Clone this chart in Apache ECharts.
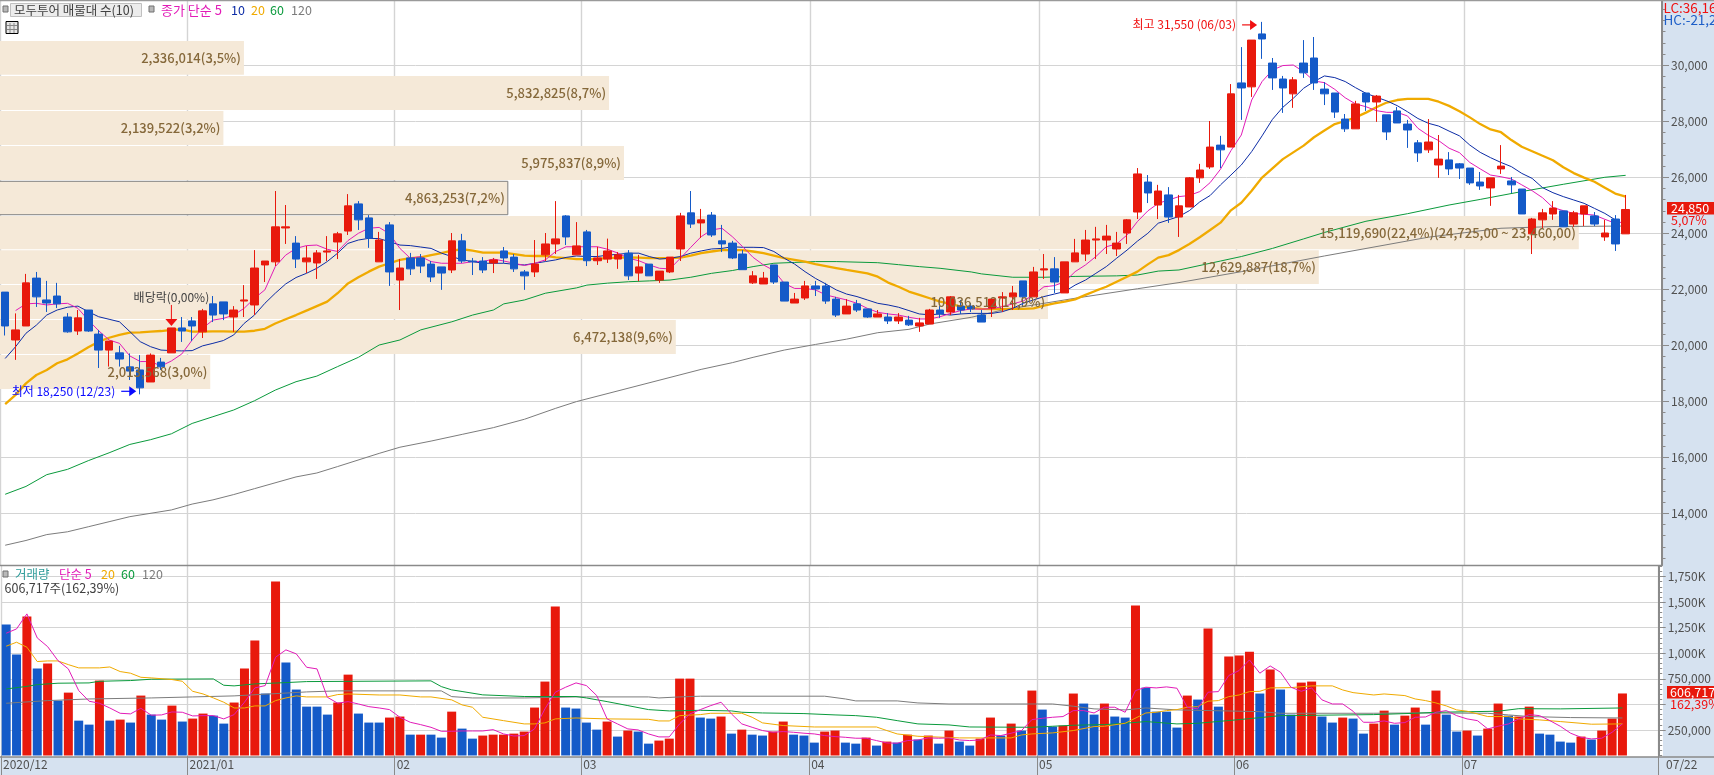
<!DOCTYPE html>
<html><head><meta charset="utf-8">
<style>html,body{margin:0;padding:0;background:#fff;overflow:hidden}#c{width:1714px;height:775px}</style>
<script src="https://cdn.jsdelivr.net/npm/echarts@6/dist/echarts.min.js"></script>
</head><body><div id="c"></div>
<script>
const opens=[21900,20190,20690,22400,21620,21760,21010,20510,21260,20400,19830,19730,19230,19120,18690,19400,19730,20620,20870,20480,21480,21550,21010,21580,21440,22870,22980,24190,23650,22980,22940,23330,23690,24080,25050,24550,22980,24300,22330,23120,23120,22900,22800,22690,23730,23010,23010,22940,23370,23150,22620,22620,23230,23620,24620,23230,24050,23020,23080,23080,23290,22580,22900,22330,22620,23440,24730,24370,24650,23730,23650,23260,22230,22190,22870,22260,21510,21690,22120,22120,21650,21120,21480,21300,21010,21010,20870,20900,20690,20760,21260,21190,21400,21400,21080,21330,21690,21730,22300,21730,22690,22730,21870,22980,23260,23760,23760,23440,24010,24760,25830,25010,25370,24580,24940,25980,26370,27150,27080,29370,29230,31120,30080,29510,28980,30080,30260,29150,29010,28080,27730,29010,28690,28230,28370,27900,27230,26980,26440,26620,26480,26330,25830,25620,26300,25870,25580,23980,24480,24690,24800,24330,24690,24620,23870,24510,23980];
const closes=[20690,20550,22230,21730,21510,21480,20480,20980,20510,19830,20150,19510,19080,18480,19650,19230,20620,20510,20690,21230,21080,21120,21260,21620,22760,23010,24230,24230,23080,23120,23300,23370,23980,24980,24480,23830,23760,22620,22760,22730,22830,22440,22580,23730,23010,22980,22690,23050,23120,22730,22480,22900,23620,23800,23870,23550,23020,23120,23370,23230,22480,22800,22480,22650,23150,24620,24330,24480,23940,23620,23120,22700,22480,22400,22260,21580,21650,22120,22010,21580,21080,21400,21260,21010,21120,20870,21010,20730,20800,21260,21120,21730,21260,21300,20830,21650,21730,21870,21730,22620,22730,22260,22980,23300,23760,23800,23900,23650,24480,26120,25440,25510,24580,24980,25980,26260,27080,26980,28980,29190,30900,30940,29550,29190,29480,29730,29370,28980,28330,27730,28620,28690,28900,27620,27940,27690,26870,27260,26650,26300,26330,25800,25690,25980,26400,25730,24690,24510,24730,24900,24230,24730,24980,24330,24010,23620,24850];
const lows=[20350,19480,20690,21370,21190,21330,20450,20370,20480,19190,19240,19240,18760,18250,18690,19120,19730,20120,20150,20260,20830,20900,20480,21010,21080,22260,22830,23620,22760,22580,22370,23010,23080,23940,24120,23480,22980,22120,21260,22510,22580,22260,21980,22580,22940,22510,22580,22580,22940,22620,21980,22440,23010,23260,23580,23230,22830,22870,22940,22730,22330,22290,22480,22230,22580,23010,24190,23830,23870,23330,23080,22700,22190,22190,22190,21580,21510,21620,21760,21480,21010,21120,21190,20980,21010,20760,20760,20690,20480,20760,20980,21080,21120,21190,20830,21010,21190,21260,21380,21730,22370,21870,21870,22980,23010,23080,23260,23190,23620,24510,25080,24510,24370,23870,24940,25800,26300,26330,27080,28050,28870,30230,29120,28300,28480,29550,29120,28580,28120,27620,27730,28370,27980,27330,27940,27050,26550,26870,25980,26080,25940,25730,25550,24980,26120,25440,24690,23260,24190,24480,24230,24230,24260,24260,23730,23370,23980];
const highs=[21900,21140,22550,22620,22300,22230,21150,21260,21260,20550,20150,19980,19710,19650,19710,19550,20620,21010,21010,21300,21760,21550,21400,22150,23400,23010,25510,25010,23900,23550,23400,23900,24050,25400,25150,24650,24050,24400,23080,23300,23260,23010,22800,24010,23980,23120,23150,23120,23510,23260,22690,23760,24010,25150,24650,24400,24120,23520,23810,23330,23400,23230,22900,22650,23150,24730,25510,24870,24760,24300,23730,23400,22650,22620,22870,22260,21870,22300,22300,22230,21730,21650,21620,21300,21260,21150,21150,21050,20980,21300,21400,21760,21620,21510,21260,21650,21900,22120,22300,22800,23260,23150,22980,23800,24120,24230,24300,24050,24510,26330,26080,25730,25650,25370,26010,26480,28010,27480,29330,30650,30900,31550,30260,29620,29580,30900,31010,29400,29010,28260,28730,29010,28940,28230,28510,28050,27330,28080,27510,26900,26510,26330,26190,25980,27150,26010,25580,24550,24870,25150,24800,24800,24980,24760,24480,24650,25370];
const volumesK=[1281,987,1359,850,899,537,615,341,302,733,341,351,322,586,400,351,488,332,361,410,390,312,518,850,1124,606,1701,909,645,478,478,400,518,791,410,322,322,371,381,204,204,204,175,429,263,165,195,204,204,214,234,469,723,1457,469,459,322,253,332,185,244,234,116,146,165,752,752,371,361,381,214,253,204,195,234,332,204,195,126,234,244,126,116,175,97,136,126,204,156,195,116,244,136,97,165,371,195,312,244,635,449,283,292,606,508,400,508,381,371,1466,664,429,429,273,586,547,1241,478,968,977,1016,606,840,645,400,713,723,381,322,371,361,214,312,439,302,390,469,302,635,400,234,244,195,263,508,390,381,478,214,204,136,126,185,156,244,361,606.717];
const volumeColours=("BBRBRBRBBR"+"BRBRBBRBRR"+"BBRRRBRBBB"+"BBRRBBBRRB"+"RBBRBBRRRR"+"RRRRBBBBRB"+"RBBRRRRBBR"+"BRBBRRBBBR"+"RBBRBRBRBR"+"BRBBRRBRBR"+"BBRRBBRBBR"+"BBBBRBRBRR"+"RBRBBRRBBR"+"BBRRBRRBRB"+"BRBRRBRRBB"+"BBRBRRR").split("");
const ma5=[null,21240,21480,21500,21440,21480,21500,21320,20900,20520,20190,20070,19620,19420,19420,19260,19440,19690,20190,20610,20900,20960,21080,21320,21680,21980,22810,23220,23460,23560,23580,23430,23350,23740,24000,24180,24210,23980,23460,23110,23170,22990,22930,22930,22930,22990,22990,23080,23010,22930,22850,22930,23050,23350,23520,23520,23520,23520,23430,23290,23110,23020,22870,22750,22730,23110,23500,23880,24120,24180,23880,23520,23140,22870,22670,22210,22030,22030,21980,21800,21710,21620,21500,21320,21180,21120,21080,21000,20940,20940,21020,21140,21240,21300,21290,21310,21380,21480,21580,21800,22090,22130,22270,22630,22870,23170,23520,23620,23940,24420,24800,25070,25190,25310,25350,25490,25810,26290,26950,27510,28760,29420,29830,29990,30010,29770,29440,29380,29140,28840,28620,28520,28380,28320,28320,28190,27750,27500,27310,27040,26880,26530,26300,26080,26020,25940,25730,25520,25270,24920,24810,24710,24680,24650,24500,24360,24420];
const ma10=[19530,19950,20430,20720,21080,21260,21360,21400,21200,21020,20930,20840,20490,20130,19950,19830,19810,19800,19810,19980,20070,20170,20370,20780,21080,21500,21860,22190,22420,22570,22750,22990,23290,23640,23760,23820,23810,23700,23580,23560,23510,23460,23290,23170,23050,22990,22930,22930,22930,22890,22870,22930,22990,23050,23140,23190,23170,23170,23220,23250,23290,23290,23170,23080,23110,23170,23290,23370,23440,23460,23520,23500,23500,23490,23350,23110,22900,22630,22390,22190,21980,21830,21740,21620,21500,21440,21360,21240,21120,21090,21120,21080,21120,21140,21140,21140,21200,21320,21500,21620,21740,21830,21920,22150,22330,22570,22810,23110,23400,23720,24000,24360,24480,24600,24810,25120,25350,25730,26080,26440,26920,27480,28070,28500,28820,29180,29420,29620,29560,29420,29200,29000,28860,28730,28560,28340,28100,27930,27830,27650,27480,27150,26890,26700,26530,26380,26140,25960,25630,25450,25310,25190,25070,24890,24710,24480,null];
const ma20=[17900,18230,18640,18940,19120,19360,19500,19710,19930,20130,20270,20370,20450,20460,20490,20510,20550,20570,20490,20490,20500,20500,20490,20490,20520,20590,20780,20930,21080,21240,21400,21560,21860,22210,22430,22630,22810,22930,23050,23110,23140,23220,23290,23380,23430,23380,23310,23310,23310,23260,23200,23190,23190,23140,23110,23080,23080,23090,23110,23130,23140,23130,23110,23110,23110,23130,23200,23290,23350,23400,23400,23400,23350,23290,23200,23110,23050,22990,22900,22830,22760,22690,22630,22570,22450,22240,22090,21920,21800,21680,21560,21480,21380,21340,21300,21290,21290,21300,21300,21320,21420,21500,21560,21640,21800,21950,22090,22270,22450,22630,22890,23130,23220,23400,23620,23860,24120,24380,24820,25090,25520,25990,26320,26650,26890,27130,27430,27670,27900,28010,28140,28310,28500,28670,28760,28800,28800,28800,28700,28550,28360,28140,27900,27710,27610,27330,27090,26930,26770,26610,26360,26150,25990,25840,25630,25420,25310];
const ma60Days=[1,3,5,7,9,11,13,15,17,19,21,23,25,27,29,31,33,35,37,39,41,44,46,48,49,51,53,56,57,59,61,63,65,67,69,71,73,75,77,79,81,85,87,89,91,94,95,98,101,104,108,110,112,114,118,120,123,126,128,132,136,140,143,147,151,155,157];
const ma60Vals=[14680,14960,15380,15570,15880,16160,16460,16630,16840,17210,17450,17690,18020,18400,18700,18900,19240,19570,20010,20190,20550,20840,21080,21260,21480,21620,21860,22050,22150,22220,22270,22300,22330,22430,22570,22670,22810,22930,22960,22990,22990,22950,22880,22810,22750,22620,22550,22430,22430,22460,22480,22510,22650,22690,23010,23170,23460,23800,24030,24430,24700,25010,25210,25490,25750,26000,26070];
const ma120Days=[1,3,5,7,9,11,13,17,19,21,23,25,29,31,33,37,39,42,45,48,51,54,56,68,71,73,76,79,82,85,88,90,94,97,101,104,110,114,120,128,138,145,150,157];
const ma120Vals=[12860,13030,13240,13340,13520,13700,13880,14120,14330,14480,14670,14880,15300,15440,15670,16140,16360,16580,16820,17060,17360,17750,17990,19140,19380,19570,19830,20030,20220,20450,20570,20760,21000,21260,21500,21680,22020,22240,22630,23190,23860,24180,24240,24260];
const volMa5K=[1196,1238,1385,1150,1065,928,847,635,531,511,465,413,407,462,394,397,426,423,387,390,390,358,400,521,661,684,961,1033,994,863,847,570,511,527,504,478,465,449,374,325,302,276,237,237,240,240,240,253,211,191,195,260,456,619,668,710,684,586,358,309,260,250,211,182,182,309,407,449,488,521,407,309,276,244,227,234,227,218,211,195,185,178,169,169,146,123,120,146,152,172,169,172,152,146,152,201,195,218,244,351,364,374,381,439,439,416,472,472,423,635,668,661,671,658,472,456,619,625,782,831,935,805,876,814,668,628,661,544,504,504,433,325,325,338,315,322,374,377,423,439,390,358,341,260,286,309,358,400,390,341,286,218,178,162,169,227,309];
const volMa20Days=[1,2,3,4,5,6,7,8,10,11,12,13,14,15,17,18,19,20,21,22,23,24,25,26,27,28,29,30,32,33,34,37,39,41,42,44,45,46,47,49,51,52,53,54,56,59,63,64,65,66,68,69,72,73,74,76,79,85,86,87,89,93,98,99,100,102,104,106,107,109,111,112,113,114,115,116,117,118,119,120,121,122,123,125,127,129,130,131,133,134,136,137,138,139,140,141,142,143,144,146,147,149,151,153,154,157];
const volMa20K=[1069,1108,1059,919,925,925,889,857,857,866,821,805,765,759,743,726,628,602,563,521,465,465,485,485,537,563,583,573,573,596,602,592,592,573,573,544,495,472,374,341,309,309,319,358,367,358,354,338,338,390,400,413,413,374,319,293,279,279,244,211,188,172,172,201,211,221,244,283,286,315,416,423,439,449,472,478,531,537,576,592,625,628,661,664,681,681,641,615,592,602,586,553,537,514,485,446,433,407,381,381,358,348,332,315,306,309];
const volMa60Days=[1,3,4,6,9,10,13,15,21,22,23,25,28,30,42,43,44,45,47,51,56,57,59,61,63,65,68,71,72,74,78,81,83,85,87,89,92,94,100,102,104,107,109,111,114,116,120,124,133,137,139,145,147,151,157];
const volMa60K=[651,676,693,707,710,726,733,746,749,687,681,700,713,723,730,674,642,626,593,577,577,563,527,488,449,436,442,436,423,416,410,397,390,374,341,309,299,279,276,286,296,302,315,332,309,315,351,390,400,413,423,433,458,456,465];
const volMa120Days=[1,5,9,15,19,23,30,33,43,44,46,51,56,57,63,64,66,68,80,82,83,87,89,92,102,104,106,109,111,114,122,124,133,137,144,146,148,152,157];
const volMa120K=[511,537,553,563,573,583,622,632,632,576,563,563,573,573,573,563,573,580,580,553,534,534,514,504,504,482,456,446,465,446,429,413,413,416,413,397,381,371,367];
const bandHighs=[30868,29618,28368,27118,25857,24618,23393,22154,20904,19654];
const bandLows=[29664,28404,27154,25904,24664,23429,22189,20939,19689,18439];
const bandVolumes=[2336014,5832825,2139522,5975837,4863253,15119690,12629887,10036512,6472138,2013568];
const bandLabels=["2,336,014(3,5%)","5,832,825(8,7%)","2,139,522(3,2%)","5,975,837(8,9%)","4,863,253(7,2%)","15,119,690(22,4%)(24,725,00 ~ 23,460,00)","12,629,887(18,7%)","10,036,512(14,9%)","6,472,138(9,6%)","2,013,568(3,0%)"];
const outlinedBand=4;
const monthTicks=[0,18,38,56,78,100,119,141,160];
const monthLabels=["2020/12","2021/01","02","03","04","05","06","07","  07/22"];
const priceMajor=[14000,16000,18000,20000,22000,24000,26000,28000,30000];
const volumeMajor=[250000,500000,750000,1000000,1250000,1500000,1750000];
const volumeLabelled=[250000,750000,1000000,1250000,1500000,1750000];

const FONT='"Noto Sans CJK KR"';
const RED='#e8190c',BLUE='#145ac8',MAG='#e21cb8',NAVY='#0c2ca6',ORG='#f0aa00',GRN='#0a9a3c',GRY='#7c7c7c',AXIS='#8a8a8a',GRID='#d4d4d4',BAND='#f5e9d8',BTXT='#85683a',PANEL='#d6e2f0';
const N=160;
const categories=Array.from({length:N},(_,i)=>String(i+1));
const pairs=(d,v,k)=>d.map((x,i)=>[x-1,v[i]*(k||1)]);
const withIdx=(v,k)=>v.map((x,i)=>x==null?null:[i,x*k]);
const steps=(a,b,s)=>{const r=[];for(let v=a;v<=b;v+=s)r.push(v);return r;};
const fmt=v=>String(v).replace(/\B(?=(\d{3})+$)/g,',');

const PMIN=12154,PMAX=32296,VMAX=1853500,BANDMAX=15916490;
const yBase={type:'value',position:'right',scale:false,axisLine:{show:true,onZero:false,lineStyle:{color:AXIS,width:2}}};
const monthAxis=(g,labels)=>({type:'value',gridIndex:g,position:'bottom',min:0,max:N,
  axisLine:{show:false},
  axisTick:{show:labels,customValues:monthTicks,length:20,lineStyle:{color:AXIS,width:1}},
  splitLine:{show:true,lineStyle:{color:GRID,width:1.4}},
  axisLabel:{show:labels,customValues:monthTicks,align:'left',margin:3,color:'#505050',fontSize:12,fontFamily:FONT,padding:[0,0,0,2],
    showMinLabel:true,showMaxLabel:true,hideOverlap:false,formatter:v=>monthLabels[monthTicks.indexOf(v)]||''}});

const text=(t,x,y,fill,size,extra)=>Object.assign({type:'text',z:60,style:Object.assign({text:t,x:x,y:y,fill:fill,font:(size||12)+'px '+FONT,verticalAlign:'middle'},extra||{})});
const square=(x,y)=>({type:'rect',z:60,shape:{x:x,y:y,width:5,height:6},style:{fill:'#b8b8b8',stroke:'#707070',lineWidth:1}});
const hline=(x1,x2,y,c,w)=>({type:'line',z:60,shape:{x1:x1,y1:y,x2:x2,y2:y},style:{stroke:c,lineWidth:w}});
const vline=(x,y1,y2,c,w)=>({type:'line',z:60,shape:{x1:x,y1:y1,x2:x,y2:y2},style:{stroke:c,lineWidth:w}});
const graphics=[
 {type:'rect',z:-10,shape:{x:1663,y:0,width:51,height:775},style:{fill:PANEL}},
 {type:'rect',z:-10,shape:{x:0,y:757,width:1714,height:18},style:{fill:PANEL}},
 hline(0,1714,0.5,'#9a9a9a',1.5),hline(0,1662,565.5,AXIS,1.5),hline(0,1714,757,AXIS,1.5),
 square(3,6),
 {type:'rect',z:60,shape:{x:10.5,y:3.5,width:131,height:13},style:{fill:'#ececec',stroke:'#c0c0c0',lineWidth:1}},
 text('모두투어 매물대 수(10)',14,10,'#404040',12.5),
 square(149,6),
 text('종가 단순 5',161,10,MAG,13),text('10',231,10,NAVY,12.5),text('20',251,10,ORG,12.5),text('60',270,10,GRN,12.5),text('120',291,10,GRY,12.5),
 {type:'rect',z:60,shape:{x:6,y:21.5,width:12,height:12},style:{fill:'#e6e6e6',stroke:'#000',lineWidth:1}},
 hline(7,17,25.5,'#888',1),hline(7,17,29.5,'#888',1),vline(10,23,33,'#888',1),vline(14,23,33,'#888',1),
 square(3,571),
 text('거래량',15,574,'#2f9c9a',12.5),text('단순 5',59,574,MAG,12.5),text('20',101,574,ORG,12.5),text('60',121,574,GRN,12.5),text('120',142,574,GRY,12.5),
 text('606,717주(162,39%)',4.5,588,'#404040',12.5),
 text('LC:36,16',1663.5,8,'#f01010',13.5),text('HC:-21,24',1663.5,20,'#1c5ec8',13.5),
 {type:'rect',z:60,shape:{x:1667,y:202,width:47,height:12.5},style:{fill:RED}},
 text('24,850',1671,208.5,'#fff',12.5),text('5,07%',1671,220,'#f01010',12.5),
 {type:'rect',z:60,shape:{x:1667,y:686,width:47,height:12.5},style:{fill:RED}},
 text('606,717',1670,692.5,'#fff',12.5),text('162,39%',1670,704,'#f01010',12.5)
];

const bandData=bandVolumes.map((v,i)=>[v,bandLows[i],bandHighs[i],i]);
const markerData=[[13,18250],[121,31550],[16,20620]];
const markerText=['최저 18,250 (12/23)','최고 31,550 (06/03)','배당락(0,00%)'];

const option={
 animation:false,backgroundColor:'#fff',
 textStyle:{fontFamily:FONT},
 graphic:{elements:graphics},
 grid:[{left:0,top:1,width:1662,height:564},{left:0,top:566,width:1662,height:189.5}],
 xAxis:[
  {type:'category',gridIndex:0,data:categories,show:false,boundaryGap:true},
  {type:'value',gridIndex:0,min:0,max:BANDMAX,show:false},
  monthAxis(0,false),
  {type:'category',gridIndex:1,data:categories,show:false,boundaryGap:true},
  monthAxis(1,true)
 ],
 yAxis:[
  Object.assign({},yBase,{gridIndex:0,min:PMIN,max:PMAX,
    axisTick:{show:true,length:7,customValues:priceMajor,lineStyle:{color:AXIS}},
    splitLine:{show:true,lineStyle:{color:GRID,width:1}},
    axisLabel:{customValues:priceMajor,margin:9,color:'#505050',fontSize:12,fontFamily:FONT,formatter:v=>fmt(v)}}),
  Object.assign({},yBase,{gridIndex:0,min:PMIN,max:PMAX,
    axisTick:{show:true,length:3.5,customValues:steps(12400,32000,400),lineStyle:{color:AXIS}},
    splitLine:{show:false},axisLabel:{show:false}}),
  Object.assign({},yBase,{gridIndex:1,min:0,max:VMAX,
    axisTick:{show:true,length:7,customValues:volumeMajor,lineStyle:{color:AXIS}},
    splitLine:{show:true,lineStyle:{color:GRID,width:1}},
    axisLabel:{customValues:volumeLabelled,margin:9,color:'#505050',fontSize:12,fontFamily:FONT,formatter:v=>v>=1000000?fmt(v/1000)+'K':fmt(v)}}),
  Object.assign({},yBase,{gridIndex:1,min:0,max:VMAX,
    axisTick:{show:true,length:3.5,customValues:steps(0,1850000,50000),lineStyle:{color:AXIS}},
    splitLine:{show:false},axisLabel:{show:false}})
 ],
 series:[
  {type:'custom',name:'bands',xAxisIndex:1,yAxisIndex:0,z:1,data:bandData,silent:true,clip:false,
   renderItem:(p,api)=>{
    const a=api.coord([0,api.value(2)]),b=api.coord([api.value(0),api.value(1)]);
    const o=api.value(3)===outlinedBand;
    return {type:'rect',shape:{x:a[0]-2,y:a[1],width:b[0]-a[0]+2,height:b[1]-a[1]},
      style:{fill:BAND,stroke:o?'#808080':null,lineWidth:o?1:0}};
   }},
  {type:'line',name:'120',xAxisIndex:0,yAxisIndex:0,z:2,data:pairs(ma120Days,ma120Vals),showSymbol:false,lineStyle:{color:GRY,width:1},silent:true},
  {type:'line',name:'60',xAxisIndex:0,yAxisIndex:0,z:2,data:pairs(ma60Days,ma60Vals),showSymbol:false,lineStyle:{color:GRN,width:1},silent:true},
  {type:'line',name:'20',xAxisIndex:0,yAxisIndex:0,z:2,data:ma20,showSymbol:false,connectNulls:true,lineStyle:{color:ORG,width:2.3},silent:true},
  {type:'line',name:'10',xAxisIndex:0,yAxisIndex:0,z:2,data:ma10,showSymbol:false,connectNulls:true,lineStyle:{color:NAVY,width:1},silent:true},
  {type:'line',name:'5',xAxisIndex:0,yAxisIndex:0,z:2,data:ma5,showSymbol:false,connectNulls:true,lineStyle:{color:MAG,width:1},silent:true},
  {type:'candlestick',name:'price',xAxisIndex:0,yAxisIndex:0,z:3,barWidth:8,silent:true,
   data:opens.map((o,i)=>[o,closes[i],lows[i],highs[i]]),
   itemStyle:{color:RED,color0:BLUE,borderColor:RED,borderColor0:BLUE,borderWidth:1}},
  {type:'custom',name:'bandLabels',xAxisIndex:1,yAxisIndex:0,z:5,data:bandData,silent:true,clip:false,
   renderItem:(p,api)=>{
    const b=api.coord([api.value(0),(api.value(1)+api.value(2))/2]);
    return {type:'text',style:{text:bandLabels[api.value(3)],x:b[0]-3,y:b[1],align:'right',verticalAlign:'middle',fill:BTXT,font:'500 13px '+FONT}};
   }},
  {type:'custom',name:'markers',xAxisIndex:0,yAxisIndex:0,z:6,data:markerData,silent:true,clip:false,
   renderItem:(p,api)=>{
    const c=api.coord([api.value(0),api.value(1)]),i=p.dataIndex;
    if(i<2){
     const col=i===0?'#0a0aff':'#f01010',ty=c[1]+(i===0?-3:3),tip=c[0]-(i===0?4:5);
     return {type:'group',children:[
      {type:'text',style:{text:markerText[i],x:tip-21,y:ty,align:'right',verticalAlign:'middle',fill:col,font:'12px '+FONT}},
      {type:'line',shape:{x1:tip-15,y1:ty,x2:tip-6,y2:ty},style:{stroke:col,lineWidth:1.2}},
      {type:'polygon',shape:{points:[[tip,ty],[tip-7,ty-5],[tip-7,ty+5]]},style:{fill:col}}]};
    }
    return {type:'group',children:[
      {type:'text',style:{text:markerText[i],x:c[0],y:c[1]-31,align:'center',verticalAlign:'middle',fill:'#404040',font:'12px '+FONT}},
      {type:'line',shape:{x1:c[0],y1:c[1]-23,x2:c[0],y2:c[1]-8},style:{stroke:'#f01010',lineWidth:1}},
      {type:'polygon',shape:{points:[[c[0],c[1]-2],[c[0]-6,c[1]-9],[c[0]+6,c[1]-9]]},style:{fill:'#f01010'}}]};
   }},
  {type:'bar',name:'volume',xAxisIndex:3,yAxisIndex:2,z:2,barWidth:9,silent:true,
   data:volumesK.map((v,i)=>({value:v*1000,itemStyle:{color:volumeColours[i]==='R'?RED:BLUE}}))},
  {type:'line',name:'v120',xAxisIndex:3,yAxisIndex:2,z:3,data:pairs(volMa120Days,volMa120K,1000),showSymbol:false,lineStyle:{color:GRY,width:1},silent:true},
  {type:'line',name:'v60',xAxisIndex:3,yAxisIndex:2,z:3,data:pairs(volMa60Days,volMa60K,1000),showSymbol:false,lineStyle:{color:GRN,width:1},silent:true},
  {type:'line',name:'v20',xAxisIndex:3,yAxisIndex:2,z:3,data:pairs(volMa20Days,volMa20K,1000),showSymbol:false,lineStyle:{color:ORG,width:1},silent:true},
  {type:'line',name:'v5',xAxisIndex:3,yAxisIndex:2,z:3,data:withIdx(volMa5K,1000),showSymbol:false,lineStyle:{color:MAG,width:1},silent:true}
 ]
};
echarts.init(document.getElementById('c'),null,{renderer:'canvas'}).setOption(option);
</script></body></html>
